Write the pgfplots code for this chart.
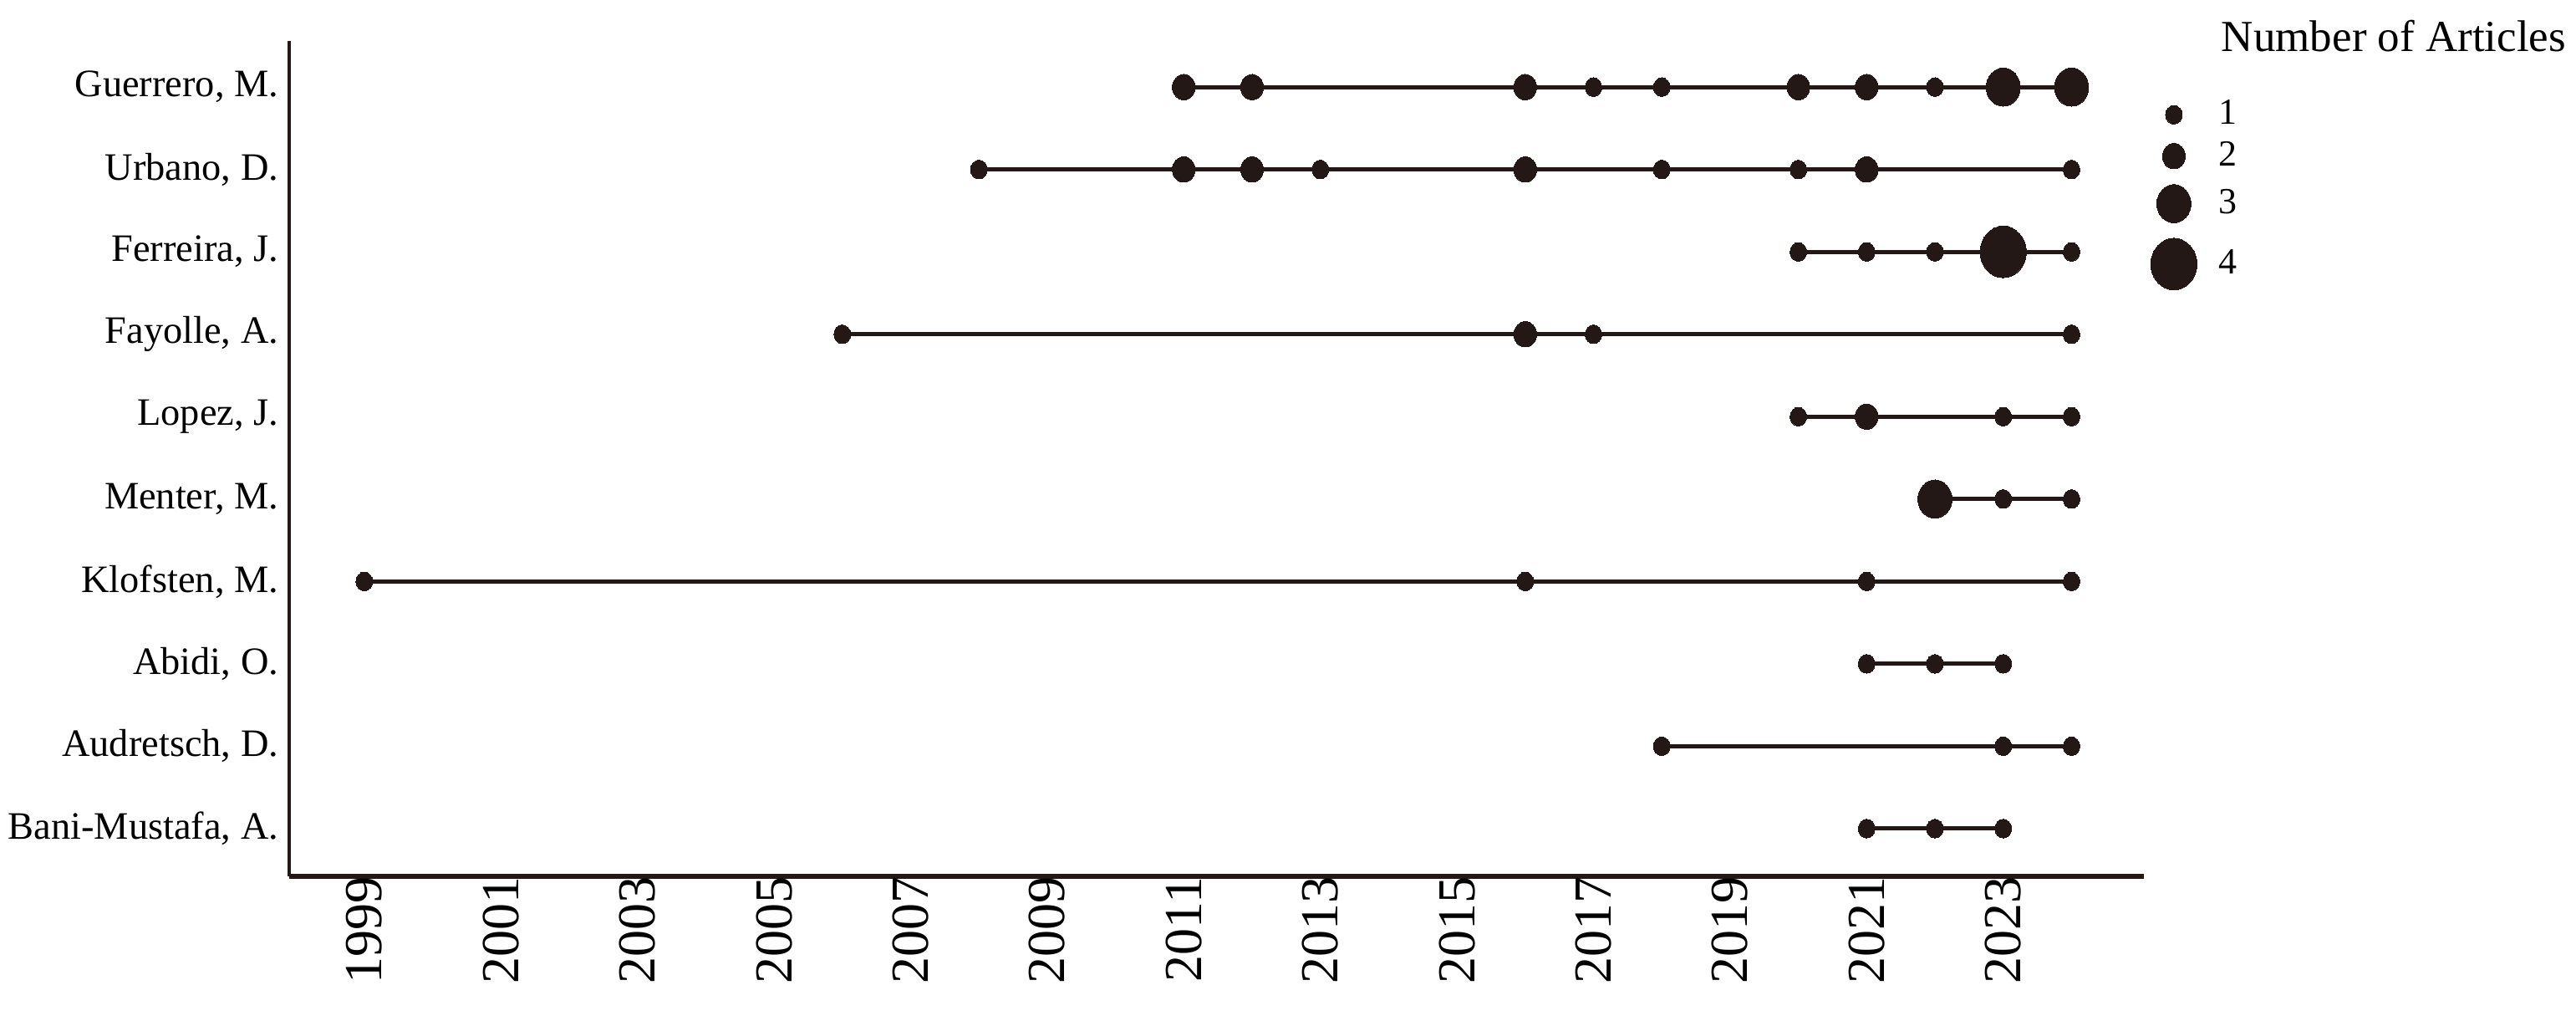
\documentclass[border=0pt]{standalone}
\usepackage{fontspec}
\setmainfont{Liberation Serif}
\usepackage{pgfplots}
\pgfplotsset{compat=1.18}
\definecolor{dotc}{HTML}{231815}

% one row per author: line from first to last year, dot size = number of articles
\pgfplotsset{
  author/.style={
    forget plot,
    draw=dotc, line width=1.2pt,
    mark=*,
    scatter,
    point meta=\thisrow{n},
    scatter/use mapped color={draw=dotc, fill=dotc},
    visualization depends on={ifthenelse(\thisrow{n}==1,2.5,ifthenelse(\thisrow{n}==2,3.4,ifthenelse(\thisrow{n}==3,5.1,6.9))) \as \rr},
    scatter/@pre marker code/.append style={/tikz/mark size=\rr},
    mark options={line width=0pt, yscale=1.12},
  },
  sizeimg/.style={only marks, mark=*, draw=dotc, fill=dotc, mark size=#1, mark options={line width=0pt, yscale=1.12}},
}

\begin{document}
\begin{tikzpicture}
\useasboundingbox (-86.5pt,-41.5pt) rectangle (684pt,262pt);
\begin{axis}[
  scale only axis, width=554.75pt, height=249.75pt,
  xmin=1997.9, xmax=2025.06, ymin=-0.58, ymax=9.56,
  axis x line*=bottom, axis y line*=left,
  x axis line style={line width=1.4pt, dotc},
  y axis line style={line width=1pt, dotc},
  major tick length=0pt,
  xtick={1999,2001,...,2023},
  ytick={0,...,9},
  yticklabels={{Bani-Mustafa, A.},{Audretsch, D.},{Abidi, O.},{Klofsten, M.},{Menter, M.},{Lopez, J.},{Fayolle, A.},{Ferreira, J.},{Urbano, D.},{Guerrero, M.}},
  yticklabel style={font=\fontsize{11.6}{13}\selectfont, inner sep=0pt, xshift=-3pt},
  xticklabel style={rotate=90, anchor=east, inner sep=0pt, font=\fontsize{16}{18}\selectfont, yshift=0pt},
  /pgf/number format/assume math mode=true,
  /pgf/number format/1000 sep={},
  clip=false,
  legend style={draw=none, fill=none, inner sep=0pt, at={(1.0032,0.936)}, anchor=north west,
    font=\fontsize{11}{12}\selectfont, row sep=0.6pt, column sep=5pt, nodes={inner sep=1.5pt}},
  legend cell align=left,
  legend image code/.code={%
    \path[draw=none, fill=none] (-7pt,{-1.12*\pgfplotmarksize-2pt}) rectangle (7pt,{1.12*\pgfplotmarksize+2pt});
    \draw plot coordinates {(0pt,0pt)};},
]
\addlegendimage{sizeimg=2.5pt}\addlegendentry{1}
\addlegendimage{sizeimg=3.4pt}\addlegendentry{2}
\addlegendimage{sizeimg=5.1pt}\addlegendentry{3}
\addlegendimage{sizeimg=6.9pt}\addlegendentry{4}

% Guerrero, M.
\addplot[author] table {
year row n
2011 9 2
2012 9 2
2016 9 2
2017 9 1
2018 9 1
2020 9 2
2021 9 2
2022 9 1
2023 9 3
2024 9 3
};
% Urbano, D.
\addplot[author] table {
year row n
2008 8 1
2011 8 2
2012 8 2
2013 8 1
2016 8 2
2018 8 1
2020 8 1
2021 8 2
2024 8 1
};
% Ferreira, J.
\addplot[author] table {
year row n
2020 7 1
2021 7 1
2022 7 1
2023 7 4
2024 7 1
};
% Fayolle, A.
\addplot[author] table {
year row n
2006 6 1
2016 6 2
2017 6 1
2024 6 1
};
% Lopez, J.
\addplot[author] table {
year row n
2020 5 1
2021 5 2
2023 5 1
2024 5 1
};
% Menter, M.
\addplot[author] table {
year row n
2022 4 3
2023 4 1
2024 4 1
};
% Klofsten, M.
\addplot[author] table {
year row n
1999 3 1
2016 3 1
2021 3 1
2024 3 1
};
% Abidi, O.
\addplot[author] table {
year row n
2021 2 1
2022 2 1
2023 2 1
};
% Audretsch, D.
\addplot[author] table {
year row n
2018 1 1
2023 1 1
2024 1 1
};
% Bani-Mustafa, A.
\addplot[author] table {
year row n
2021 0 1
2022 0 1
2023 0 1
};
\end{axis}
\node[font=\fontsize{13.25}{15}\selectfont] at (629.5pt,251.25pt) {Number of Articles};
\end{tikzpicture}
\end{document}
